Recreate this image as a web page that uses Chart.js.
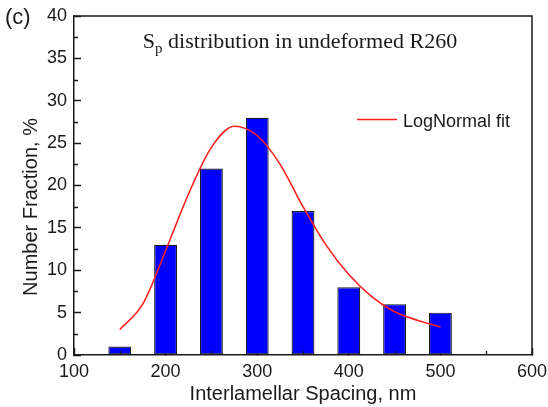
<!DOCTYPE html>
<html>
<head>
<meta charset="utf-8">
<script src="https://cdn.jsdelivr.net/npm/chart.js@4.4.1/dist/chart.umd.min.js"></script>
<style>
  body { margin: 0; background: #fff; }
  #wrap { width: 548px; height: 407px; }
</style>
</head>
<body>
<div id="wrap"><canvas id="js--chart" width="548" height="407"></canvas></div>
<script>
// histogram of interlamellar spacing
const spacing = [150, 200, 250, 300, 350, 400, 450, 500];
const fraction = [1, 13, 22, 28, 17, 8, 6, 5];

// log-normal fit curve
const fitSpacing = [150, 175, 200, 225, 250, 275, 300, 325, 350, 375, 400, 425, 450, 475, 500];
const fitFraction = [3.0, 6.0, 12.3, 19.0, 24.5, 27.0, 25.9, 22.5, 17.5, 13.0, 9.5, 6.9, 5.1, 4.1, 3.3];

const xTicks = [100, 200, 300, 400, 500, 600];
const yTicks = [0, 5, 10, 15, 20, 25, 30, 35, 40];
const xMinor = [150, 250, 350, 450, 550];
const yMinor = [2.5, 7.5, 12.5, 17.5, 22.5, 27.5, 32.5, 37.5];

const sans = "'Liberation Sans', Arial, sans-serif";
const serif = "'Liberation Serif', 'Times New Roman', serif";
const ink = '#1a1a1a';

const extras = {
    id: 'extras',
    afterDraw(chart) {
        const {ctx, chartArea: a, scales: {x, y}} = chart;
        ctx.save();

        // top and right sides of the frame
        ctx.strokeStyle = ink;
        ctx.lineWidth = 1.5;
        ctx.beginPath();
        ctx.moveTo(a.left, a.top);
        ctx.lineTo(a.right, a.top);
        ctx.lineTo(a.right, a.bottom);
        ctx.stroke();

        // minor ticks, pointing inwards
        ctx.lineWidth = 1.3;
        ctx.beginPath();
        xMinor.forEach(v => {
            const px = Math.round(x.getPixelForValue(v)) + 0.5;
            ctx.moveTo(px, a.bottom);
            ctx.lineTo(px, a.bottom - 4);
        });
        yMinor.forEach(v => {
            const py = Math.round(y.getPixelForValue(v)) + 0.5;
            ctx.moveTo(a.left, py);
            ctx.lineTo(a.left + 4, py);
        });
        ctx.stroke();

        ctx.fillStyle = ink;
        ctx.textBaseline = 'alphabetic';

        // panel label
        ctx.font = `22px ${sans}`;
        ctx.textAlign = 'left';
        ctx.fillText('(c)', 5, 24);

        // title with subscript p
        const head = 'S', sub = 'p', tail = ' distribution in undeformed R260';
        ctx.font = `22px ${serif}`;
        const w1 = ctx.measureText(head).width;
        const w3 = ctx.measureText(tail).width;
        ctx.font = `15px ${serif}`;
        const w2 = ctx.measureText(sub).width;
        let tx = (a.left + a.right) / 2 - 3 - (w1 + w2 + w3) / 2;
        ctx.font = `22px ${serif}`;
        ctx.fillText(head, tx, 48);
        ctx.font = `15px ${serif}`;
        ctx.fillText(sub, tx + w1, 53);
        ctx.font = `22px ${serif}`;
        ctx.fillText(tail, tx + w1 + w2, 48);

        // legend
        const fit = chart.data.datasets[1];
        ctx.strokeStyle = fit.borderColor;
        ctx.lineWidth = fit.borderWidth;
        ctx.beginPath();
        ctx.moveTo(357, 119.5);
        ctx.lineTo(397, 119.5);
        ctx.stroke();
        ctx.font = `18px ${sans}`;
        ctx.fillText(fit.label, 403, 126.5);

        // y axis title
        ctx.translate(31, 207);
        ctx.rotate(-Math.PI / 2);
        ctx.textAlign = 'center';
        ctx.textBaseline = 'middle';
        ctx.font = `20px ${sans}`;
        ctx.fillText('Number Fraction, %', 0, 0);

        ctx.restore();
    }
};

const data = {
    datasets: [
        {
            type: 'bar',
            label: 'Number fraction',
            data: spacing.map((s, i) => ({x: s, y: fraction[i]})),
            backgroundColor: '#0000ff',
            borderColor: '#1a1a1a',
            borderWidth: 1.2,
            borderSkipped: false,
            barPercentage: 0.5,
            categoryPercentage: 1.0,
            order: 1,
        },
        {
            type: 'line',
            label: 'LogNormal fit',
            data: fitSpacing.map((s, i) => ({x: s, y: fitFraction[i]})),
            borderColor: '#ff2020',
            borderWidth: 1.6,
            pointRadius: 0,
            cubicInterpolationMode: 'monotone',
            fill: false,
            order: 0,
        }
    ]
};

const config = {
    type: 'bar',
    data: data,
    options: {
        responsive: false,
        animation: false,
        layout: {padding: {left: 0, right: 16, top: 16, bottom: 0}},
        plugins: {legend: {display: false}, tooltip: {enabled: false}},
        scales: {
            x: {
                type: 'linear',
                min: 100,
                max: 600,
                offset: false,
                z: 1,
                afterBuildTicks: axis => { axis.ticks = xTicks.map(v => ({value: v})); },
                afterFit: axis => {
                    axis.height = 52;
                    axis.paddingLeft = 0;
                    axis.paddingRight = 0;
                },
                grid: {offset: false, drawOnChartArea: false, tickLength: -7, tickWidth: 1.5, tickColor: ink},
                border: {color: ink, width: 1.5},
                ticks: {padding: 13, color: ink, font: {family: sans, size: 18}, maxRotation: 0},
                title: {
                    display: true,
                    text: 'Interlamellar Spacing, nm',
                    color: ink,
                    font: {family: sans, size: 20},
                    padding: {top: 0, bottom: 1},
                },
            },
            y: {
                min: 0,
                max: 40,
                z: 1,
                afterBuildTicks: axis => { axis.ticks = yTicks.map(v => ({value: v})); },
                afterFit: axis => {
                    axis.width = 74;
                    axis.paddingTop = 0;
                    axis.paddingBottom = 0;
                },
                grid: {drawOnChartArea: false, tickLength: -7, tickWidth: 1.5, tickColor: ink},
                border: {color: ink, width: 1.5},
                ticks: {padding: 14, color: ink, font: {family: sans, size: 18}},
            }
        }
    },
    plugins: [extras],
};

new Chart(document.getElementById('js--chart'), config);
</script>
</body>
</html>
